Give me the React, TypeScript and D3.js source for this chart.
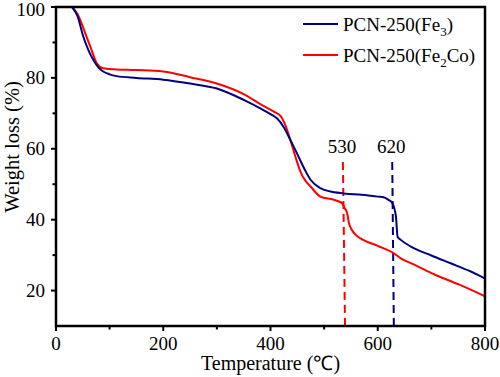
import React from "react";
import * as d3 from "d3";

const fe3Temp = [30, 40, 51, 60, 70, 80, 88, 100, 113, 150, 200, 250, 300, 350, 381, 400, 412, 425, 437, 450, 465, 475, 493, 510, 537, 570, 600, 611, 620, 627, 630, 634, 637, 643, 662, 700, 736, 770, 800];
const fe3Weight = [100, 97.5, 91.6, 88, 85, 82.8, 81.8, 81, 80.5, 80, 79.5, 78.4, 77, 73.8, 71.4, 69.8, 68.6, 66, 62.5, 58.5, 53.8, 51.2, 48.9, 48, 47.4, 47, 46.5, 46.3, 45.6, 44.7, 43.6, 40.8, 35.2, 34.3, 32.4, 29.9, 27.7, 25.6, 23.4];

const fe2coTemp = [30, 40, 57, 66, 76, 88, 100, 113, 150, 200, 250, 300, 350, 381, 406, 419, 428, 437, 447, 456, 465, 475, 493, 518, 534, 538, 543, 546, 552, 559, 568, 600, 630, 643, 670, 705, 750, 800];
const fe2coWeight = [100, 98, 91.6, 88, 84.1, 82.7, 82.5, 82.4, 82.2, 81.8, 80.2, 78.4, 75.4, 72.6, 70.5, 69.2, 66.5, 62.5, 57.5, 53.5, 51, 49.3, 46.5, 45.6, 44.6, 43.3, 41.8, 39.2, 37, 35.7, 34.7, 32.6, 30.5, 29.1, 27.2, 24.6, 21.8, 18.4];

const xMajorTicks = [0, 200, 400, 600, 800];
const xMinorTicks = [100, 300, 500, 700];
const yMajorTicks = [20, 40, 60, 80, 100];
const yMinorTicks = [30, 50, 70, 90];

// annotation lines: label, temperature at top, temperature at bottom
const markerLabels = ["530", "620"];
const markerTopTemp = [535, 627];
const markerBottomTemp = [539, 630];
const markerTopWeight = 56.3;

const seriesNames = ["PCN-250(Fe", "PCN-250(Fe"];
const seriesSubs = ["3", "2"];
const seriesTails = [")", "Co)"];

const BLUE = "#00007f";
const RED = "#ff0000";
const FONT = "Liberation Serif";

export default function App() {
  const W = 500, H = 377;
  const left = 56, right = 485, top = 7, bottom = 326;
  const x = d3.scaleLinear().domain([0, 800]).range([left, right]);
  const y = d3.scaleLinear().domain([10, 100]).range([bottom, top]);

  const line = d3
    .line<[number, number]>()
    .x((d) => x(d[0]))
    .y((d) => y(d[1]))
    .curve(d3.curveMonotoneX);

  const blueData: [number, number][] = fe3Temp.map((t, i) => [t, fe3Weight[i]]);
  const redData: [number, number][] = fe2coTemp.map((t, i) => [t, fe2coWeight[i]]);
  const colors = [BLUE, RED];

  return (
    <svg
      width={W}
      height={H}
      style={{ position: "absolute", left: 0, top: 0, display: "block", background: "#fff" }}
    >
      <rect x={0} y={0} width={W} height={H} fill="#fff" />
      <defs>
        <clipPath id="plotclip">
          <rect x={left} y={top} width={right - left} height={bottom - top} />
        </clipPath>
      </defs>

      {/* dashed markers */}
      {markerLabels.map((lab, i) => (
        <g key={lab}>
          <line
            x1={x(markerTopTemp[i])}
            x2={x(markerBottomTemp[i])}
            y1={y(markerTopWeight)}
            y2={bottom}
            stroke={colors[1 - i]}
            strokeWidth={2}
            strokeDasharray="8,5"
          />
          <text
            x={x(markerTopTemp[i]) - 1}
            y={y(markerTopWeight) - 9}
            fontSize={19}
            textAnchor="middle"
            fill="#000"
            fontFamily={FONT}
          >
            {lab}
          </text>
        </g>
      ))}

      <g clipPath="url(#plotclip)">
        <path d={line(redData) || ""} fill="none" stroke={RED} strokeWidth={2} />
        <path d={line(blueData) || ""} fill="none" stroke={BLUE} strokeWidth={2} />
      </g>

      {/* frame */}
      <rect x={left} y={top} width={right - left} height={bottom - top} fill="none" stroke="#000" strokeWidth={2.5} />

      {/* x ticks */}
      {xMajorTicks.map((t) => (
        <g key={"xm" + t}>
          <line x1={x(t)} x2={x(t)} y1={bottom} y2={bottom + 5} stroke="#000" strokeWidth={2} />
          <text x={x(t)} y={350} fontSize={19} textAnchor="middle" fill="#000" fontFamily={FONT}>
            {t}
          </text>
        </g>
      ))}
      {xMinorTicks.map((t) => (
        <line key={"xn" + t} x1={x(t)} x2={x(t)} y1={bottom} y2={bottom + 3.5} stroke="#000" strokeWidth={2} />
      ))}

      {/* y ticks */}
      {yMajorTicks.map((t) => (
        <g key={"ym" + t}>
          <line x1={left - 5} x2={left} y1={y(t)} y2={y(t)} stroke="#000" strokeWidth={2} />
          <text x={45} y={Math.max(y(t) + 6.5, 16)} fontSize={19} textAnchor="end" fill="#000" fontFamily={FONT}>
            {t}
          </text>
        </g>
      ))}
      {yMinorTicks.map((t) => (
        <line key={"yn" + t} x1={left - 3.5} x2={left} y1={y(t)} y2={y(t)} stroke="#000" strokeWidth={2} />
      ))}

      {/* axis titles */}
      <text x={(left + right) / 2} y={370} fontSize={20} textAnchor="middle" fill="#000" fontFamily={FONT}>
        Temperature (℃)
      </text>
      <text
        transform={`translate(19,147) rotate(-90)`}
        fontSize={20.5}
        textAnchor="middle"
        fill="#000"
        fontFamily={FONT}
      >
        Weight loss (%)
      </text>

      {/* legend */}
      {seriesNames.map((name, i) => (
        <g key={"lg" + i}>
          <line x1={303} x2={338} y1={24 + i * 31} y2={24 + i * 31} stroke={colors[i]} strokeWidth={2} />
          <text x={343} y={31 + i * 31} fontSize={19} fill="#000" fontFamily={FONT}>
            {name}
            <tspan fontSize={13} dy={5}>
              {seriesSubs[i]}
            </tspan>
            <tspan dy={-5}>{seriesTails[i]}</tspan>
          </text>
        </g>
      ))}
    </svg>
  );
}
